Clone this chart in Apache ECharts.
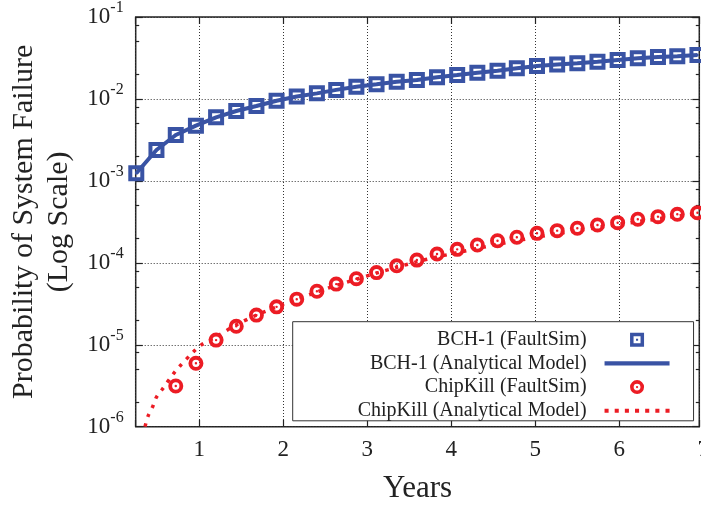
<!DOCTYPE html>
<html>
<head>
<meta charset="utf-8">
<script src="https://cdn.jsdelivr.net/npm/echarts@6/dist/echarts.min.js"></script>
<style>
  html, body { margin: 0; padding: 0; background: #fff; }
  #main { width: 701px; height: 506px; }
</style>
</head>
<body>
<div id="main"></div>
<script>
// sample times (years) of the simulated points
const years = [0.25, 0.49, 0.72, 0.96, 1.20, 1.44, 1.68, 1.92, 2.16, 2.40, 2.63, 2.87, 3.11, 3.35, 3.59,
  3.83, 4.07, 4.31, 4.55, 4.78, 5.02, 5.26, 5.50, 5.74, 5.98, 6.22, 6.46, 6.69, 6.93];

const bch1Sim = [1.24e-3, 2.38e-3, 3.63e-3, 4.72e-3, 5.97e-3, 7.13e-3, 8.2e-3, 9.5e-3, 1.07e-2, 1.17e-2,
  1.29e-2, 1.41e-2, 1.51e-2, 1.62e-2, 1.70e-2, 1.84e-2, 1.96e-2, 2.09e-2, 2.21e-2, 2.37e-2,
  2.52e-2, 2.63e-2, 2.72e-2, 2.85e-2, 2.99e-2, 3.13e-2, 3.24e-2, 3.33e-2, 3.44e-2];
const bch1Model = bch1Sim;

// chipkill simulation starts at the 3rd sample
const chipkillSimYears = years.slice(2);
const chipkillSim = [3.14e-6, 5.94e-6, 1.14e-5, 1.68e-5, 2.30e-5, 2.9e-5, 3.6e-5, 4.5e-5, 5.5e-5, 6.4e-5,
  7.6e-5, 9.2e-5, 1.08e-4, 1.28e-4, 1.46e-4, 1.65e-4, 1.86e-4, 2.05e-4, 2.29e-4, 2.47e-4,
  2.64e-4, 2.90e-4, 3.09e-4, 3.40e-4, 3.66e-4, 3.91e-4, 4.09e-4];

const chipkillModelYears = [0.354, 0.39, 0.445, 0.49, 0.56, 0.69, 0.77, 0.93, 1.02, 1.20, 1.44, 1.68, 1.92,
  2.16, 2.40, 2.63, 2.87, 3.11, 3.35, 3.59, 3.83, 4.07, 4.31, 4.55, 4.78, 5.02, 5.26, 5.50, 5.74,
  5.98, 6.22, 6.46, 6.69, 6.93];
const chipkillModel = [1.0e-6, 1.35e-6, 1.75e-6, 2.29e-6, 2.86e-6, 4.4e-6, 5.5e-6, 8.2e-6, 9.9e-6, 1.25e-5,
  1.75e-5, 2.3e-5, 2.9e-5, 3.6e-5, 4.4e-5, 5.3e-5, 6.3e-5, 7.5e-5, 8.8e-5, 1.03e-4, 1.18e-4,
  1.33e-4, 1.50e-4, 1.68e-4, 1.86e-4, 2.06e-4, 2.27e-4, 2.48e-4, 2.70e-4, 2.94e-4, 3.18e-4,
  3.44e-4, 3.71e-4, 3.98e-4];

const seriesNames = ['BCH-1 (FaultSim)', 'BCH-1 (Analytical Model)', 'ChipKill (FaultSim)', 'ChipKill (Analytical Model)'];
const xTickLabels = [1, 2, 3, 4, 5, 6, 7];
const yMinorTicks = [2e-6, 5e-6, 8e-6, 2e-5, 5e-5, 8e-5, 2e-4, 5e-4, 8e-4, 2e-3, 5e-3, 8e-3, 2e-2, 5e-2, 8e-2];

const X_MIN = 0.243, X_MAX = 6.952;
const BLUE = '#3953a4', RED = '#ec1c24';
const FONT = 'Liberation Serif';

const squareSym = 'path://M0,0H16V16H0Z M4,4V12H12V4Z M6.8,6.8H9.2V9.2H6.8Z';
const ringSym = 'path://M0,8A8,8,0,1,1,16,8A8,8,0,1,1,0,8Z M4.1,8A3.9,3.9,0,1,0,11.9,8A3.9,3.9,0,1,0,4.1,8Z M6.7,8A1.3,1.3,0,1,1,9.3,8A1.3,1.3,0,1,1,6.7,8Z';
const lineIcon = 'path://M0,0H64V4H0Z';
const dotIcon = 'path://M0,0h4v4h-4Z M10,0h4v4h-4Z M20,0h4v4h-4Z M30,0h4v4h-4Z M40,0h4v4h-4Z M50,0h4v4h-4Z M60,0h4v4h-4Z';

const pairs = (xs, ys) => xs.map((x, i) => [x, ys[i]]);
const dotted = {type: [1, 2], color: '#333', width: 1};
const tickStyle = {color: '#222', width: 1.2};

const chart = echarts.init(document.getElementById('main'), null, {renderer: 'canvas'});
const option = {
    animation: false,
    textStyle: {fontFamily: FONT},
    grid: [
        {left: 135.7, right: 1.7, top: 17, bottom: 79.3, outerBoundsMode: 'none', containLabel: false,
            show: true, borderColor: '#222', borderWidth: 1.5},
        {left: 135.7, right: -2.3, top: 17, bottom: 79.3, outerBoundsMode: 'none', containLabel: false}
    ],
    xAxis: [
        {
            type: 'value', min: X_MIN, max: X_MAX, position: 'bottom',
            axisLine: {show: false},
            axisTick: {inside: true, length: 7, lineStyle: tickStyle},
            axisLabel: {
                margin: 12, fontSize: 23, color: '#222', fontFamily: FONT,
                formatter: v => (xTickLabels.indexOf(v) >= 0 && v < 7 ? String(v) : '')
            },
            splitLine: {show: true, lineStyle: dotted},
            name: 'Years', nameLocation: 'middle', nameGap: 47,
            nameTextStyle: {fontSize: 31, color: '#222', fontFamily: FONT}
        },
        {
            type: 'value', min: X_MIN, max: X_MAX, position: 'top',
            axisLine: {show: false},
            axisTick: {inside: true, length: 7, lineStyle: tickStyle},
            axisLabel: {show: false}, splitLine: {show: false}
        },
        {
            // wider grid only to place the "7" tick label that sits on the clipped edge
            gridIndex: 1, type: 'value', min: X_MIN, max: 7,
            axisLine: {show: false}, axisTick: {show: false}, splitLine: {show: false},
            axisLabel: {
                margin: 12, fontSize: 23, color: '#222', fontFamily: FONT,
                formatter: v => (v === 7 ? '7' : '')
            }
        }
    ],
    yAxis: [
        {
            type: 'log', logBase: 10, min: 1e-6, max: 1e-1, position: 'left',
            axisLine: {show: false},
            axisTick: {inside: true, length: 7, lineStyle: tickStyle},
            axisLabel: {
                margin: 12, color: '#222', showMinLabel: true, showMaxLabel: true,
                formatter: v => '{b|10}{s|' + Math.round(Math.log10(v)) + '}',
                rich: {
                    b: {fontSize: 23, lineHeight: 34, fontFamily: FONT, color: '#222'},
                    s: {fontSize: 16, verticalAlign: 'top', fontFamily: FONT, color: '#222'}
                }
            },
            splitLine: {show: true, lineStyle: dotted},
            name: 'Probability of System Failure\n(Log Scale)', nameLocation: 'middle', nameGap: 58,
            nameRotate: 90,
            nameTextStyle: {fontSize: 30, lineHeight: 35, color: '#222', fontFamily: FONT, align: 'center'}
        },
        {
            type: 'log', logBase: 10, min: 1e-6, max: 1e-1, position: 'right',
            axisLine: {show: false},
            axisTick: {inside: true, length: 7, lineStyle: tickStyle},
            axisLabel: {show: false}, splitLine: {show: false}
        },
        {
            type: 'log', logBase: 10, min: 1e-6, max: 1e-1, position: 'left',
            axisLine: {show: false},
            axisTick: {inside: true, length: 3.5, customValues: yMinorTicks, lineStyle: tickStyle},
            axisLabel: {show: false}, splitLine: {show: false}
        },
        {
            type: 'log', logBase: 10, min: 1e-6, max: 1e-1, position: 'right',
            axisLine: {show: false},
            axisTick: {inside: true, length: 3.5, customValues: yMinorTicks, lineStyle: tickStyle},
            axisLabel: {show: false}, splitLine: {show: false}
        },
        {
            gridIndex: 1, type: 'log', min: 1e-6, max: 1e-1, show: false
        }
    ],
    legend: {
        orient: 'vertical', align: 'right',
        left: 292.7, top: 321.7,
        padding: [8, 24, 0, 65],
        itemWidth: 65, itemHeight: 14, itemGap: 3.7,
        backgroundColor: '#fff', borderColor: '#333', borderWidth: 1,
        itemStyle: {borderWidth: 0},
        textStyle: {fontSize: 20, lineHeight: 20, color: '#222', fontFamily: FONT, padding: [0, 13, 0, 0]},
        data: [
            {name: seriesNames[0]},
            {name: seriesNames[1], icon: lineIcon},
            {name: seriesNames[2]},
            {name: seriesNames[3], icon: dotIcon}
        ]
    },
    series: [
        {
            name: seriesNames[1], type: 'line', data: pairs(years, bch1Model),
            symbol: 'none', color: BLUE, lineStyle: {width: 4, color: BLUE}, z: 2
        },
        {
            name: seriesNames[0], type: 'scatter', data: pairs(years, bch1Sim),
            symbol: squareSym, symbolSize: 16, color: BLUE, itemStyle: {opacity: 1}, clip: false, z: 3
        },
        {
            name: seriesNames[3], type: 'line', data: pairs(chipkillModelYears, chipkillModel),
            symbol: 'none', smooth: 0.3, color: RED,
            lineStyle: {width: 3.5, color: RED, type: [3.5, 6.5], cap: 'butt'}, z: 2
        },
        {
            name: seriesNames[2], type: 'scatter', data: pairs(chipkillSimYears, chipkillSim),
            symbol: ringSym, symbolSize: 15, color: RED, itemStyle: {opacity: 1}, clip: false, z: 3
        }
    ]
};
chart.setOption(option);
</script>
</body>
</html>
